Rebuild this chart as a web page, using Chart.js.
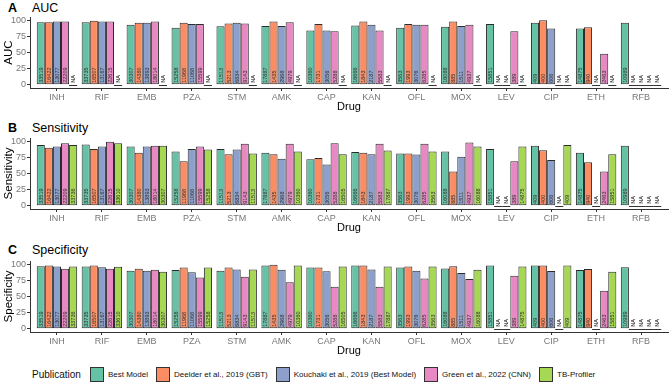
<!DOCTYPE html>
<html>
<head>
<meta charset="utf-8">
<script src="https://cdn.jsdelivr.net/npm/chart.js@4/dist/chart.umd.min.js"></script>
<style>
  body { margin: 0; width: 669px; height: 389px; background: #fff; position: relative; overflow: hidden;
         font-family: 'Liberation Sans', Arial, sans-serif; }
  canvas { position: absolute; left: 0; }
  .ttl { position: absolute; left: 8px; font-size: 12.5px; color: #000; line-height: 14px; }
  .ttl b { display: inline-block; width: 24px; }
  #legend { position: absolute; left: 32px; top: 367px; display: flex; align-items: center; font-size: 8px; color: #111; }
  #legend .head { font-size: 10px; margin-right: 9px; }
  #legend .box { width: 12px; height: 13px; border: 1px solid #333; margin-right: 4px; }
  #legend .lab { margin-right: 8px; }
</style>
</head>
<body>
<div class="ttl" style="top:1px"><b>A</b>AUC</div>
<div class="ttl" style="top:121px"><b>B</b>Sensitivity</div>
<div class="ttl" style="top:243px"><b>C</b>Specificity</div>
<canvas id="auc" width="669" height="116" style="top:0"></canvas>
<canvas id="sens" width="669" height="116" style="top:121px"></canvas>
<canvas id="spec" width="669" height="116" style="top:244px"></canvas>
<div id="legend"></div>
<script>
const drugs = ['INH', 'RIF', 'EMB', 'PZA', 'STM', 'AMK', 'CAP', 'KAN', 'OFL', 'MOX', 'LEV', 'CIP', 'ETH', 'RFB'];
const publications = ['Best Model', 'Deelder et al., 2019 (GBT)', 'Kouchaki et al., 2019 (Best Model)',
                      'Green et al., 2022 (CNN)', 'TB-Profiler'];
const colours = ['#66C2A5', '#FC8D62', '#8DA0CB', '#E78AC3', '#A6D854'];

// sample counts printed inside the bars
const nBest     = [33519, 33735, 30307, 15258, 11513, 17887, 10360, 16666, 3563, 16088, 15851, 409, 14875, 10989];
const nDeelder  = [16422, 16507, 14380, 11968, 5213, 1435, 1731, 1843, 1993, 885, null, 400, 940, null];
const nKouchaki = [13077, 13167, 13893, 11068, 6834, 2968, 3056, 2187, 3076, 1511, null, 606, null, null];
const nGreen    = [22209, 22615, 18014, 15599, 9143, 4979, 5288, 5583, 6285, 4937, 389, null, 2463, null];
const nProfiler = [33736, 33610, 30307, 15258, 11513, 10360, 16505, 17887, 3563, 16088, 14875, 409, 15851, null];

// AUC
const aucBest     = [97, 97, 93, 88.5, 90.5, 91, 84, 92, 88.5, 90, 94, 96, 87, 96];
const aucDeelder  = [97, 99, 96, 96, 95, 98, 94, 98, 94, 98, null, 100, 89, null];
const aucKouchaki = [98, 98, 96, 94, 96, 91, 84, 93, 93, 91, null, 87, null, null];
const aucGreen    = [98, 98, 98, 94, 95, 97, 83, 84, 93, 93, 83, null, 48, null];
const aucProfiler = [null, null, null, null, null, null, null, null, null, null, null, null, null, null];

// Sensitivity
const sensBest     = [94, 95, 92, 84, 88, 82, 72, 83.5, 81, 84, 88, 93, 82, 93];
const sensDeelder  = [90, 88, 82, 69, 80, 80, 74, 82, 81, 53, null, 86, 67.5, null];
const sensKouchaki = [92, 92, 92, 88, 87, 73, 64, 80, 79.5, 76, null, 71, null, null];
const sensGreen    = [97, 99, 93, 92, 96, 96, 97, 96, 96, 98, 69, null, 53, null];
const sensProfiler = [94, 97, 93, 87, 81, 84, 80, 85.5, 84, 92, 92, 94, 80, null];

// Specificity
const specBest     = [97, 96.5, 90, 91, 90, 98, 95, 98, 95, 93.5, 98, 98, 91, 95.5];
const specDeelder  = [98, 98, 93, 95, 95, 99, 95, 98, 96.5, 97, null, 98, 92.5, null];
const specKouchaki = [96.5, 95.5, 90, 87.5, 92, 91.5, 89, 92, 90, 86.5, null, 89.5, null, null];
const specGreen    = [93, 93, 91.5, 79.5, 80.5, 72, 65, 65, 78, 77, 82, null, 59, null];
const specProfiler = [96.5, 96, 88.5, 95, 92, 98, 96.5, 96.5, 96.5, 91.5, 96.5, 98, 88.5, null];

const counts = [nBest, nDeelder, nKouchaki, nGreen, nProfiler];

// draws the rotated sample counts (or NA) at the foot of every bar
const barLabels = {
  id: 'barLabels',
  afterDatasetsDraw(chart) {
    const ctx = chart.ctx;
    const y0 = chart.scales.y.getPixelForValue(0);
    chart.data.datasets.forEach((ds, i) => {
      chart.getDatasetMeta(i).data.forEach((bar, j) => {
        const na = ds.raw[j] == null;
        const text = na ? 'NA' : String(ds.counts[j]);
        ctx.save();
        if (na) {
          ctx.strokeStyle = '#333';
          ctx.lineWidth = 1;
          ctx.beginPath();
          ctx.moveTo(bar.x - bar.width / 2, Math.round(y0) + 0.5);
          ctx.lineTo(bar.x + bar.width / 2, Math.round(y0) + 0.5);
          ctx.stroke();
        }
        ctx.translate(bar.x, y0 - 2);
        ctx.rotate(-Math.PI / 2);
        ctx.font = '5.5px "Liberation Sans", Arial, sans-serif';
        ctx.fillStyle = na ? '#000' : '#333';
        ctx.textAlign = 'left';
        ctx.textBaseline = 'middle';
        ctx.fillText(text, 0, 0.5);
        ctx.restore();
      });
    });
  }
};

function makePanel(id, yTitle, series) {
  return new Chart(document.getElementById(id), {
    type: 'bar',
    data: {
      datasets: series.map((vals, i) => ({
        label: publications[i],
        data: vals.map((v, j) => ({ x: j, y: v ?? 0 })),
        raw: vals,
        counts: counts[i],
        backgroundColor: colours[i],
        borderColor: 'rgba(20,20,20,0.9)',
        borderWidth: 1,
        borderSkipped: false,
        categoryPercentage: 0.9,
        barPercentage: 1
      }))
    },
    options: {
      responsive: false,
      animation: false,
      layout: { padding: { top: 17, right: 1, left: 0, bottom: 0 } },
      plugins: { legend: { display: false }, tooltip: { enabled: false } },
      scales: {
        x: {
          type: 'linear', min: -0.6, max: drugs.length - 0.4, offset: false,
          afterBuildTicks: s => { s.ticks = drugs.map((_, i) => ({ value: i })); },
          afterFit: s => { s.height = 28; s.paddingLeft = 0; s.paddingRight = 0; },
          ticks: { callback: v => drugs[v], autoSkip: false, maxRotation: 0, padding: 1,
                   color: '#777', font: { size: 9, family: 'Liberation Sans' } },
          grid: { display: true, offset: false, drawOnChartArea: false, drawTicks: true, tickLength: 3, color: '#333' },
          border: { display: true, color: '#333' },
          title: { display: true, text: 'Drug', color: '#000', padding: { top: 0, bottom: 2 },
                   font: { size: 11, family: 'Liberation Sans' } }
        },
        y: {
          min: -5, max: 105,
          afterBuildTicks: s => { s.ticks = [0, 25, 50, 75, 100].map(v => ({ value: v })); },
          afterFit: s => { s.width = 30; },
          ticks: { padding: 1, color: '#777', font: { size: 9, family: 'Liberation Sans' } },
          grid: { display: true, drawOnChartArea: false, drawTicks: true, tickLength: 3, color: '#333' },
          border: { display: true, color: '#333' },
          title: { display: true, text: yTitle, color: '#000', padding: { top: 2, bottom: 0 },
                   font: { size: 11.5, family: 'Liberation Sans' } }
        }
      }
    },
    plugins: [barLabels]
  });
}

makePanel('auc', 'AUC', [aucBest, aucDeelder, aucKouchaki, aucGreen, aucProfiler]);
makePanel('sens', 'Sensitivity', [sensBest, sensDeelder, sensKouchaki, sensGreen, sensProfiler]);
makePanel('spec', 'Specificity', [specBest, specDeelder, specKouchaki, specGreen, specProfiler]);

const legend = document.getElementById('legend');
legend.innerHTML = '<span class="head">Publication</span>' + publications.map((p, i) =>
  `<span class="box" style="background:${colours[i]}"></span><span class="lab">${p}</span>`).join('');
</script>
</body>
</html>
